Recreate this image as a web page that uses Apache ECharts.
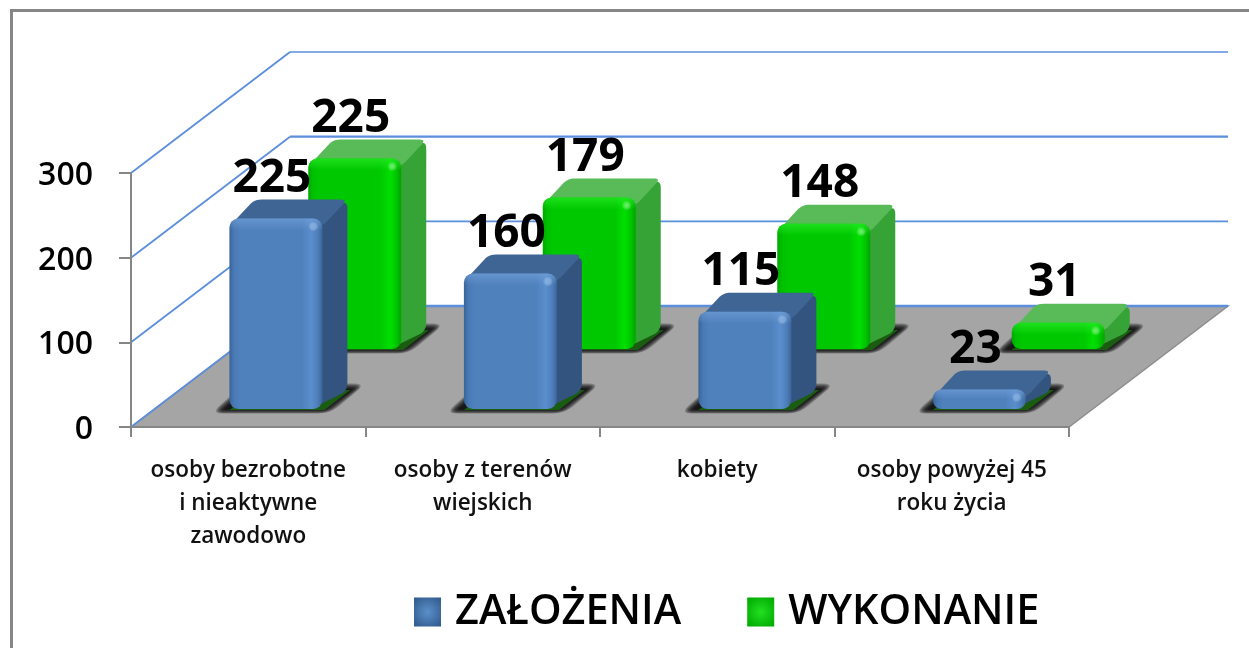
<!DOCTYPE html>
<html><head><meta charset="utf-8">
<style>html,body{margin:0;padding:0;background:#fff}#c{width:1249px;height:648px}</style>
<script src="https://cdn.jsdelivr.net/npm/echarts@6/dist/echarts.min.js"></script>
</head><body><div id="c"></div>
<script>
const categories = ['osoby bezrobotne\ni nieaktywne\nzawodowo', 'osoby z terenów\nwiejskich', 'kobiety', 'osoby powyżej 45\nroku życia'];
const zalozenia = [225, 160, 115, 23];
const wykonanie = [225, 179, 148, 31];
const yTicks = [0, 100, 200, 300];

const FONT = '"Open Sans", sans-serif';
const DEPTH_X = 159, DEPTH_Y = 121;
const BAR_W = 93, BAR_DX = 25, BAR_DY = 18;

function roundPoly(pts, r) {
  const out = [], n = pts.length;
  for (let i = 0; i < n; i++) {
    const p = pts[i], a = pts[(i + n - 1) % n], b = pts[(i + 1) % n];
    const la = Math.hypot(a[0] - p[0], a[1] - p[1]), lb = Math.hypot(b[0] - p[0], b[1] - p[1]);
    const ra = Math.min(r, la / 2), rb = Math.min(r, lb / 2);
    const s = [p[0] + (a[0] - p[0]) * ra / la, p[1] + (a[1] - p[1]) * ra / la];
    const e = [p[0] + (b[0] - p[0]) * rb / lb, p[1] + (b[1] - p[1]) * rb / lb];
    for (let t = 0; t <= 6; t++) {
      const u = t / 6, v = 1 - u;
      out.push([v * v * s[0] + 2 * u * v * p[0] + u * u * e[0], v * v * s[1] + 2 * u * v * p[1] + u * u * e[1]]);
    }
  }
  return out;
}
function hGrad(stops) {
  return new echarts.graphic.LinearGradient(0, 0, 1, 0, stops.map(s => ({ offset: s[0], color: s[1] })));
}
function vGrad(stops) {
  return new echarts.graphic.LinearGradient(0, 0, 0, 1, stops.map(s => ({ offset: s[0], color: s[1] })));
}

function bar3d(look) {
  return function (params, api) {
    const top0 = api.coord([api.value(0), api.value(1)]);
    const base0 = api.coord([api.value(0), 0]);
    const shiftX = look.lift * DEPTH_X / DEPTH_Y;
    const x = base0[0] + shiftX + 4 - BAR_W / 2;
    const yb = base0[1] - look.lift;
    const yt = top0[1] - look.lift;
    const w = BAR_W, dx = BAR_DX, dy = BAR_DY;
    const r = Math.min(9, (yb - yt) / 2.2);
    const kids = [];
    // soft contact shadow on the floor, built from stacked translucent layers
    for (let e = 9; e >= 0; e -= 1.5) {
      kids.push({ type: 'polygon', shape: { points: roundPoly([
        [x - 6 - e * 1.4, yb + 0.5 + e * 0.45], [x + 20 - e * 0.6, yb - 20 - e * 0.6],
        [x + w + dx + 6 + e * 1.4, yb - 20 - e * 0.6], [x + w + 2 + e * 0.6, yb + 0.5 + e * 0.45]], 3 + e) },
        style: { fill: 'rgba(0,0,0,0.24)' } });
    }
    kids.push({ type: 'polygon', shape: { points: [[x, yb + 1], [x + dx, yb - dy], [x + w + dx + 3, yb - dy - 1], [x + w + 2, yb + 1]] }, style: { fill: '#1a5c10' } });
    kids.push({ type: 'polygon', shape: { points: roundPoly([[x + w - 12, yt], [x + w + dx, yt - dy], [x + w + dx, yb - dy], [x + w - 12, yb + 0]], 8) }, style: { fill: look.side } });
    kids.push({ type: 'polygon', shape: { points: roundPoly([[x, yt + 8], [x + dx, yt - dy - 1], [x + w + dx, yt - dy - 1], [x + w, yt + 8]], 7) }, style: { fill: look.top } });
    kids.push({ type: 'rect', shape: { x: x, y: yt, width: w, height: yb - yt, r: r }, style: { fill: hGrad(look.front) } });
    kids.push({ type: 'rect', shape: { x: x, y: yt, width: w, height: Math.min(12, (yb - yt) / 2), r: [r, r, 0, 0] }, style: { fill: vGrad(look.sheen) } });
    kids.push({ type: 'circle', shape: { cx: x + w - 9, cy: yt + 8, r: 5 },
      style: { fill: new echarts.graphic.RadialGradient(0.5, 0.5, 0.5, [{ offset: 0, color: look.spot }, { offset: 1, color: 'rgba(255,255,255,0)' }]) } });
    kids.push({ type: 'text', style: { text: String(api.value(1)), x: x + w / 2 - 4, y: yt - dy - 22, align: 'center', verticalAlign: 'middle',
      font: 'bold 46px ' + FONT, fill: '#000' } });
    return { type: 'group', children: kids };
  };
}

const blueLook = {
  lift: 18, side: '#33547f', top: '#3e6594', spot: 'rgba(130,180,240,0.7)',
  front: [[0, '#38639a'], [0.05, '#4a7ab4'], [0.12, '#4f81bd'], [0.78, '#4f81bd'], [0.88, '#5a8ecd'], [0.95, '#4d7eb9'], [1, '#3a659c']],
  sheen: [[0, 'rgba(120,165,220,0.55)'], [1, 'rgba(120,165,220,0)']]
};
const greenLook = {
  lift: 78, side: '#36a336', top: '#58bb58', spot: 'rgba(140,255,140,0.7)',
  front: [[0, '#00a800'], [0.05, '#00c000'], [0.12, '#00c800'], [0.78, '#00c800'], [0.88, '#00e000'], [0.95, '#00c400'], [1, '#00a400']],
  sheen: [[0, 'rgba(40,235,40,0.7)'], [1, 'rgba(40,235,40,0)']]
};

function wallRender(params, api) {
  const cs = params.coordSys;
  const v = api.value(1);
  const y = api.coord([0, v])[1];
  const left = cs.x, right = cs.x + cs.width;
  const kids = [];
  if (v === 0) {
    kids.push({ type: 'polygon', shape: { points: [[left, y], [left + DEPTH_X, y - DEPTH_Y], [right + DEPTH_X, y - DEPTH_Y], [right, y]] },
      style: { fill: '#a5a5a5', stroke: '#8e8e8e', lineWidth: 1.5 } });
  }
  const thick = v === 200 || v === 0 ? 2.4 : 1.7;
  kids.push({ type: 'polyline', shape: { points: [[left, y], [left + DEPTH_X, y - DEPTH_Y]] }, style: { fill: 'none', stroke: '#5b8fdc', lineWidth: 1.8 } });
  kids.push({ type: 'polyline', shape: { points: [[left + DEPTH_X, y - DEPTH_Y], [right + DEPTH_X, y - DEPTH_Y]] }, style: { fill: 'none', stroke: '#5b8fdc', lineWidth: thick } });
  return { type: 'group', children: kids };
}

const swatch = (edge, mid) => new echarts.graphic.RadialGradient(0.5, 0.5, 0.7, [{ offset: 0, color: mid }, { offset: 1, color: edge }]);

const chart = echarts.init(document.getElementById('c'), null, { renderer: 'canvas' });
chart.setOption({
  animation: false,
  backgroundColor: '#fff',
  grid: { left: 131, right: 180, top: 173, bottom: 221, containLabel: false },
  graphic: [{ type: 'polyline', z: 0, shape: { points: [[11.5, 648], [11.5, 10.5], [1249, 10.5]] }, style: { fill: 'none', stroke: '#868686', lineWidth: 3 } }],
  legend: {
    left: 409, top: 586, itemWidth: 27, itemHeight: 29, itemGap: 66, icon: 'rect',
    textStyle: { fontFamily: FONT, fontSize: 41.5, fontWeight: 600, color: '#000', padding: [0, 0, 0, 9] },
    data: [
      { name: 'ZAŁOŻENIA', itemStyle: { color: swatch('#2f5a8c', '#5b8fc9') } },
      { name: 'WYKONANIE', itemStyle: { color: swatch('#00a800', '#22e022') } }
    ]
  },
  xAxis: {
    type: 'category', data: categories, boundaryGap: true,
    axisLine: { show: true, lineStyle: { color: '#868686', width: 2 } },
    axisTick: { show: true, length: 10, lineStyle: { color: '#868686', width: 2 } },
    axisLabel: { margin: 27, interval: 0, fontFamily: FONT, fontSize: 22.5, fontWeight: 600, lineHeight: 33, color: '#111' },
    z: 5
  },
  yAxis: {
    type: 'value', min: 0, max: 300, interval: 100,
    axisLine: { show: true, lineStyle: { color: '#868686', width: 2 } },
    axisTick: { show: true, length: 12, lineStyle: { color: '#868686', width: 2 } },
    splitLine: { show: false },
    axisLabel: { margin: 38, formatter: '{n|{value}}',
      rich: { n: { fontFamily: FONT, fontSize: 32, fontWeight: 600, color: '#000', padding: [6, 0, 0, 0] } } },
    z: 5
  },
  series: [
    { type: 'custom', name: 'sciany', z: 1, silent: true, renderItem: wallRender, encode: { x: 0, y: 1 }, data: yTicks.map(v => [0, v]) },
    { type: 'custom', name: 'WYKONANIE', z: 3, renderItem: bar3d(greenLook), encode: { x: 0, y: 1 }, itemStyle: { color: '#00c800' }, data: wykonanie.map((v, i) => [i, v]) },
    { type: 'custom', name: 'ZAŁOŻENIA', z: 4, renderItem: bar3d(blueLook), encode: { x: 0, y: 1 }, itemStyle: { color: '#4f81bd' }, data: zalozenia.map((v, i) => [i, v]) }
  ]
});
</script></body></html>
